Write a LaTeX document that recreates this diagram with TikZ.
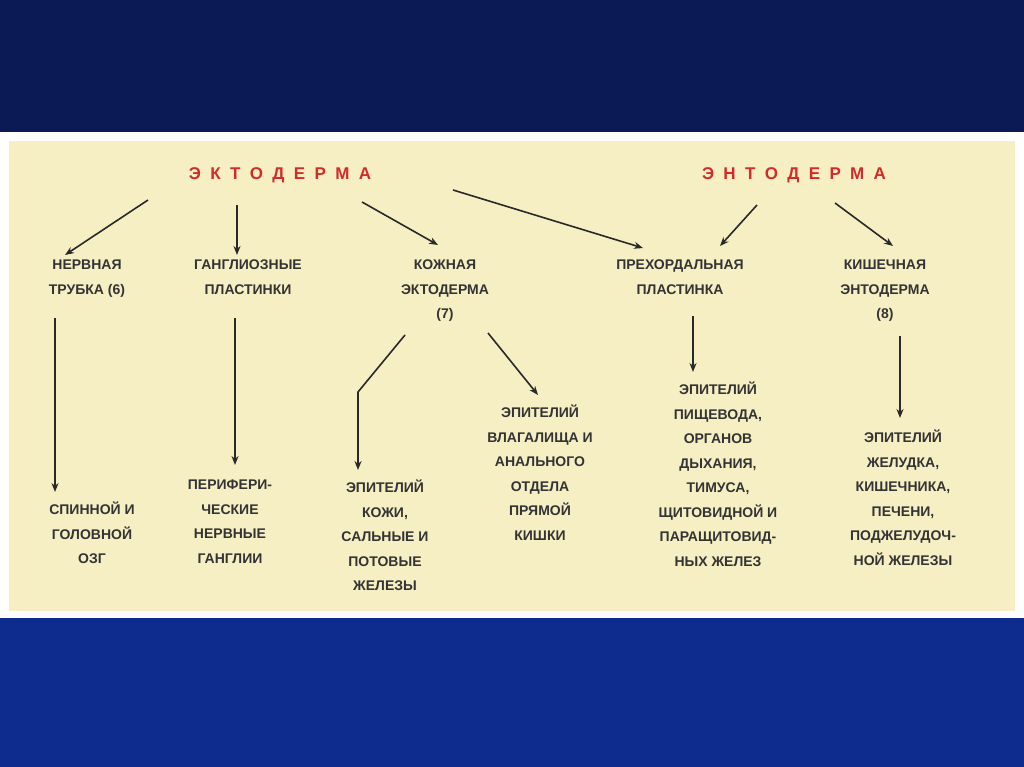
\documentclass[tikz,border=0pt]{standalone}
\usepackage{fontspec}
\setmainfont{Liberation Sans}
\usetikzlibrary{arrows.meta}
\definecolor{navy}{HTML}{0B1A55}
\definecolor{blueb}{HTML}{0D2C8E}
\definecolor{cream}{HTML}{F6EFC4}
\definecolor{redt}{HTML}{D42A2A}
\definecolor{txt}{HTML}{333333}
\begin{document}
\begin{tikzpicture}[x=1pt,y=-1pt,
  lab/.style={font=\bfseries\fontsize{14}{24.5}\selectfont,text=txt,align=center,inner sep=0pt},
  head/.style={font=\bfseries\fontsize{17}{20}\selectfont,text=redt,inner sep=0pt},
  arr/.style={-{Stealth[length=9pt,width=7pt]},line width=1.6pt,draw=txt!80!black}]
\useasboundingbox (0,0) rectangle (1024,767);
\fill[navy] (0,0) rectangle (1024,132);
\fill[blueb] (0,615) rectangle (1024,767);
\fill[white] (0,132) rectangle (1024,618);
\fill[cream] (9,141) rectangle (1015,611);
\node[head] (ekt) at (280,175) {Э\hspace{0.55em}К\hspace{0.55em}Т\hspace{0.55em}О\hspace{0.55em}Д\hspace{0.55em}Е\hspace{0.55em}Р\hspace{0.55em}М\hspace{0.55em}А};
\node[head] (ent) at (794,175) {Э\hspace{0.55em}Н\hspace{0.55em}Т\hspace{0.55em}О\hspace{0.55em}Д\hspace{0.55em}Е\hspace{0.55em}Р\hspace{0.55em}М\hspace{0.55em}А};
\node[lab,anchor=north] (n1) at (87,260) {НЕРВНАЯ\\ТРУБКА (6)};
\node[lab,anchor=north] (n2) at (248,260) {ГАНГЛИОЗНЫЕ\\ПЛАСТИНКИ};
\node[lab,anchor=north] (n3) at (445,260) {КОЖНАЯ\\ЭКТОДЕРМА\\(7)};
\node[lab,anchor=north] (n4) at (680,260) {ПРЕХОРДАЛЬНАЯ\\ПЛАСТИНКА};
\node[lab,anchor=north] (n5) at (885,260) {КИШЕЧНАЯ\\ЭНТОДЕРМА\\(8)};
\node[lab,anchor=north] (b1) at (92,502) {СПИННОЙ И\\ГОЛОВНОЙ\\ОЗГ};
\node[lab,anchor=north] (b2) at (230,480) {ПЕРИФЕРИ-\\ЧЕСКИЕ\\НЕРВНЫЕ\\ГАНГЛИИ};
\node[lab,anchor=north] (b3) at (385,480) {ЭПИТЕЛИЙ\\КОЖИ,\\САЛЬНЫЕ И\\ПОТОВЫЕ\\ЖЕЛЕЗЫ};
\node[lab,anchor=north] (b4) at (540,405) {ЭПИТЕЛИЙ\\ВЛАГАЛИЩА И\\АНАЛЬНОГО\\ОТДЕЛА\\ПРЯМОЙ\\КИШКИ};
\node[lab,anchor=north] (b5) at (718,382) {ЭПИТЕЛИЙ\\ПИЩЕВОДА,\\ОРГАНОВ\\ДЫХАНИЯ,\\ТИМУСА,\\ЩИТОВИДНОЙ И\\ПАРАЩИТОВИД-\\НЫХ ЖЕЛЕЗ};
\node[lab,anchor=north] (b6) at (903,430) {ЭПИТЕЛИЙ\\ЖЕЛУДКА,\\КИШЕЧНИКА,\\ПЕЧЕНИ,\\ПОДЖЕЛУДОЧ-\\НОЙ ЖЕЛЕЗЫ};
\coordinate (a1s) at (148,200); \coordinate (a1e) at (65,255);
\coordinate (a2s) at (237,205); \coordinate (a2e) at (237,255);
\coordinate (a3s) at (362,202); \coordinate (a3e) at (438,245);
\coordinate (a4s) at (453,190); \coordinate (a4e) at (643,248);
\coordinate (a5s) at (757,205); \coordinate (a5e) at (720,246);
\coordinate (a6s) at (835,203); \coordinate (a6e) at (893,246);
\coordinate (c1s) at (55,318); \coordinate (c1e) at (55,492);
\coordinate (c2s) at (235,318); \coordinate (c2e) at (235,465);
\coordinate (c3s) at (405,335); \coordinate (c3m) at (358,392); \coordinate (c3e) at (358,470);
\coordinate (c4s) at (488,333); \coordinate (c4e) at (538,395);
\coordinate (c5s) at (693,316); \coordinate (c5e) at (693,372);
\coordinate (c6s) at (900,336); \coordinate (c6e) at (900,418);
\foreach \i in {1,...,6} \draw[arr] (a\i s) -- (a\i e);
\draw[arr] (c1s) -- (c1e);
\draw[arr] (c2s) -- (c2e);
\draw[arr] (c3s) -- (c3m) -- (c3e);
\draw[arr] (c4s) -- (c4e);
\draw[arr] (c5s) -- (c5e);
\draw[arr] (c6s) -- (c6e);
\end{tikzpicture}
\end{document}
